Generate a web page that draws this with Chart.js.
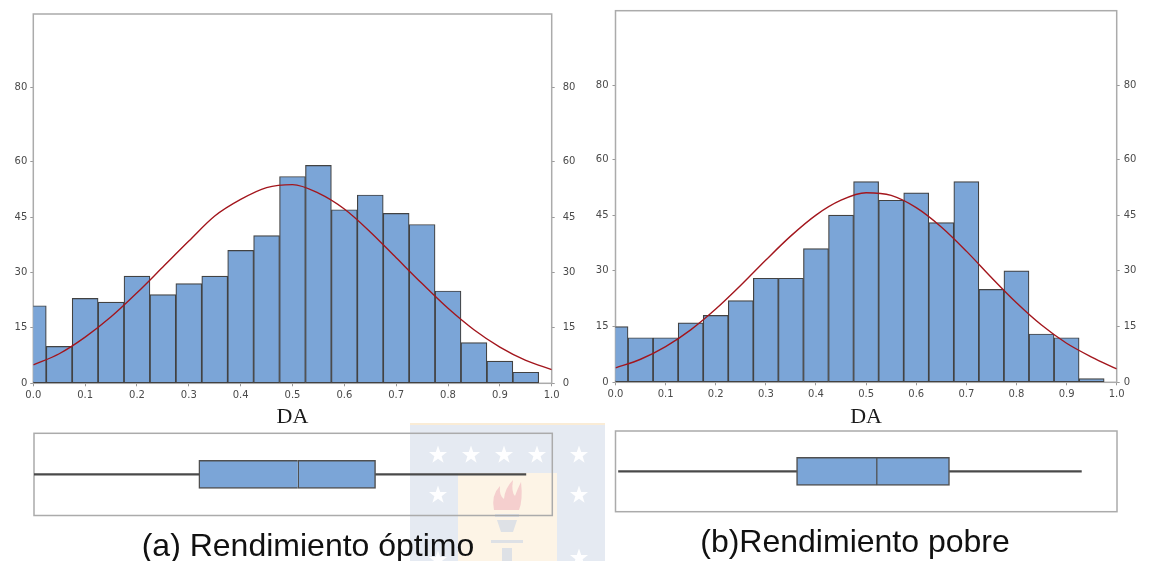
<!DOCTYPE html>
<html>
<head>
<meta charset="utf-8">
<script src="https://cdn.jsdelivr.net/npm/chart.js@4.4.1/dist/chart.umd.min.js"></script>
<style>
  html, body { margin: 0; padding: 0; background: #fff; width: 1149px; height: 561px; overflow: hidden; }
  canvas { position: absolute; }
  .caption {
    position: absolute; white-space: nowrap; transform: translateX(-50%);
    font-family: "Liberation Sans", Arial, sans-serif; font-size: 32px; line-height: 32px; color: #111;
  }
</style>
</head>
<body>
<canvas id="crest" width="200" height="141" style="left:405px; top:420px; z-index:0"></canvas>
<canvas id="histA" width="580" height="430" style="left:0; top:0; z-index:1"></canvas>
<canvas id="histB" width="569" height="430" style="left:580px; top:0; z-index:1"></canvas>
<canvas id="boxA" width="580" height="100" style="left:0; top:425px; z-index:1"></canvas>
<canvas id="boxB" width="569" height="100" style="left:580px; top:425px; z-index:1"></canvas>
<div class="caption" style="left:308px; top:529px; z-index:2">(a) Rendimiento óptimo</div>
<div class="caption" style="left:855px; top:525px; z-index:2">(b)Rendimiento pobre</div>

<script>
// Histogram bins (centre of each 0.05-wide class)
const binCenters = [0.00, 0.05, 0.10, 0.15, 0.20, 0.25, 0.30, 0.35, 0.40, 0.45,
                    0.50, 0.55, 0.60, 0.65, 0.70, 0.75, 0.80, 0.85, 0.90, 0.95];
// Frequencies per bin
const countsOptimo = [21, 10, 23, 22, 29, 24, 27, 29, 36, 40, 56, 59, 47, 51, 46, 43, 25, 11, 6, 3];
const countsPobre  = [15, 12, 12, 16, 18, 22, 28, 28, 36, 45, 54, 49, 51, 43, 54, 25, 30, 13, 12, 1];

// Fitted normal curve, sampled along DA
const curveX = [0.00, 0.05, 0.10, 0.15, 0.20, 0.25, 0.30, 0.35, 0.40, 0.45, 0.50,
                0.55, 0.60, 0.65, 0.70, 0.75, 0.80, 0.85, 0.90, 0.95, 1.00];
const curveOptimo = [5.0, 8.0, 12.5, 18.0, 24.5, 31.5, 38.5, 45.3, 49.8, 53.0, 53.8,
                     51.5, 47.2, 41.0, 34.0, 27.0, 20.3, 14.5, 9.8, 6.2, 3.7];
const curvePobre  = [3.9, 6.2, 9.6, 14.1, 19.7, 26.1, 32.9, 39.4, 45.0, 49.0, 51.0,
                     50.3, 47.0, 41.8, 35.3, 28.2, 21.4, 15.4, 10.5, 6.8, 3.6];

// Box plots: [whisker low, Q1, median, Q3, whisker high]
const boxOptimo = [0.000, 0.318, 0.509, 0.659, 0.949];
const boxPobre  = [0.006, 0.361, 0.520, 0.666, 0.929];

// Axis tick values
const xTickValues = [0.0, 0.1, 0.2, 0.3, 0.4, 0.5, 0.6, 0.7, 0.8, 0.9, 1.0];
const yTickValues = [0, 15, 30, 45, 60, 80];

const BLUE = '#7ba5d7';
const EDGE = '#424242';
const RED = '#a3161d';
const FRAME = '#ababab';
const TICK_FONT = { family: 'DejaVu Sans', size: 10 };
const TICK_COLOR = '#4a4a4a';

// Grey border around the plotting area
const framePlugin = {
  id: 'frame',
  beforeDatasetsDraw(chart) {
    const { ctx, chartArea: a } = chart;
    ctx.save();
    ctx.strokeStyle = FRAME;
    ctx.lineWidth = 1.5;
    ctx.strokeRect(a.left, a.top, a.right - a.left, a.bottom - a.top);
    ctx.restore();
  }
};

function yAxis(position, width, pad) {
  return {
    type: 'linear', position, min: 0, max: 100,
    border: { display: false },
    grid: { drawOnChartArea: false, drawTicks: true, tickLength: 3, color: '#999', tickColor: '#999' },
    ticks: { font: TICK_FONT, color: TICK_COLOR, padding: pad },
    afterBuildTicks: s => { s.ticks = yTickValues.map(v => ({ value: v })); },
    afterFit: s => { s.width = width; }
  };
}

function makeHistogram(id, counts, curve, g) {
  new Chart(document.getElementById(id), {
    type: 'bar',
    data: {
      datasets: [
        {
          type: 'bar',
          data: binCenters.map((x, i) => ({ x, y: counts[i] })),
          backgroundColor: BLUE, borderColor: EDGE, borderWidth: 1.2, borderSkipped: false,
          barPercentage: 1, categoryPercentage: 1, clip: 0, yAxisID: 'y', order: 2
        },
        {
          type: 'line',
          data: curveX.map((x, i) => ({ x, y: curve[i] })),
          borderColor: RED, borderWidth: 1.4, pointRadius: 0, fill: false,
          cubicInterpolationMode: 'monotone', yAxisID: 'y', order: 1
        }
      ]
    },
    options: {
      responsive: false, animation: false, events: [],
      layout: { padding: { top: g.top, left: 0, right: 0, bottom: 0 } },
      plugins: { legend: { display: false }, tooltip: { enabled: false } },
      scales: {
        x: {
          type: 'linear', min: 0, max: 1, offset: false,
          border: { display: false },
          grid: { offset: false, drawOnChartArea: false, drawTicks: true, tickLength: 3, color: '#999', tickColor: '#999' },
          ticks: { font: TICK_FONT, color: TICK_COLOR, padding: 3, maxRotation: 0, autoSkip: false,
                   callback: v => Number(v).toFixed(1) },
          title: { display: true, text: 'DA', color: '#1a1a1a', padding: 0,
                   font: { family: 'Liberation Serif', size: 22 } },
          afterBuildTicks: s => { s.ticks = xTickValues.map(v => ({ value: v })); },
          afterFit: s => { s.height = g.xHeight; }
        },
        y: yAxis('left', g.yLeft, g.padLeft),
        y2: yAxis('right', g.yRight, g.padRight)
      }
    },
    plugins: [framePlugin]
  });
}

function makeBox(id, b, pad) {
  const [lo, q1, med, q3, hi] = b;
  const whisker = { backgroundColor: '#4a4a4a', borderWidth: 0, barThickness: 1.5, grouped: false };
  const half = { backgroundColor: BLUE, borderColor: '#505050', borderSkipped: false, barThickness: 28, grouped: false };
  new Chart(document.getElementById(id), {
    type: 'bar',
    data: {
      labels: ['DA'],
      datasets: [
        Object.assign({ data: [[lo, q1]] }, whisker),
        Object.assign({ data: [[q3, hi]] }, whisker),
        Object.assign({ data: [[q1, med]], borderWidth: { top: 1.5, bottom: 1.5, left: 1.5, right: 0 } }, half),
        Object.assign({ data: [[med, q3]], borderWidth: 1.5 }, half)
      ]
    },
    options: {
      indexAxis: 'y', responsive: false, animation: false, events: [],
      layout: { padding: pad },
      plugins: { legend: { display: false }, tooltip: { enabled: false } },
      scales: {
        x: { type: 'linear', min: 0, max: 1, display: false },
        y: { display: false }
      }
    },
    plugins: [framePlugin]
  });
}

makeHistogram('histA', countsOptimo, curveOptimo,
  { top: 12.7, xHeight: 46.7, yLeft: 33.3, yRight: 28.3, padLeft: 3, padRight: 8 });
makeHistogram('histB', countsPobre, curvePobre,
  { top: 10.7, xHeight: 47.7, yLeft: 35.5, yRight: 32.3, padLeft: 4, padRight: 4 });

makeBox('boxA', boxOptimo, { left: 34, right: 27.7, top: 8.3, bottom: 9.5 });
makeBox('boxB', boxPobre, { left: 35.5, right: 32, top: 6, bottom: 13.3 });

// Faint university crest printed behind the lower panels
(function drawCrest() {
  const c = document.getElementById('crest').getContext('2d');
  c.fillStyle = 'rgb(229,234,242)';
  c.fillRect(5, 5, 195, 141);
  c.fillStyle = 'rgb(253,244,230)';
  c.fillRect(53, 53, 99, 90);
  c.fillStyle = 'rgba(250,234,210,0.9)';
  c.fillRect(5, 3, 195, 2);

  function star(cx, cy, R, r) {
    c.beginPath();
    for (let k = 0; k < 10; k++) {
      const rad = k % 2 === 0 ? R : r;
      const ang = -Math.PI / 2 + k * Math.PI / 5;
      const px = cx + rad * Math.cos(ang), py = cy + rad * Math.sin(ang);
      k === 0 ? c.moveTo(px, py) : c.lineTo(px, py);
    }
    c.closePath();
    c.fill();
  }
  c.fillStyle = 'rgba(255,255,255,0.95)';
  [33, 66, 99, 132, 174].forEach(x => star(x, 35, 9.5, 3.8));
  star(33, 75, 9.5, 3.8);
  star(174, 75, 9.5, 3.8);
  star(33, 140, 9.5, 3.8);
  star(174, 138, 9.5, 3.8);

  // flame
  c.fillStyle = 'rgba(238,170,182,0.5)';
  c.beginPath();
  c.moveTo(89, 90);
  c.quadraticCurveTo(86, 75, 95, 66);
  c.quadraticCurveTo(94, 76, 99, 79);
  c.quadraticCurveTo(100, 68, 108, 60);
  c.quadraticCurveTo(106, 72, 110, 76);
  c.quadraticCurveTo(113, 68, 116, 62);
  c.quadraticCurveTo(118, 80, 114, 90);
  c.closePath();
  c.fill();

  // torch
  c.fillStyle = 'rgba(208,216,230,0.7)';
  c.fillRect(90, 94, 24, 3);
  c.beginPath();
  c.moveTo(92, 100); c.lineTo(112, 100); c.lineTo(108, 112); c.lineTo(96, 112);
  c.closePath(); c.fill();
  c.fillRect(86, 120, 32, 3);
  c.fillRect(97, 128, 10, 13);
})();
</script>
</body>
</html>
